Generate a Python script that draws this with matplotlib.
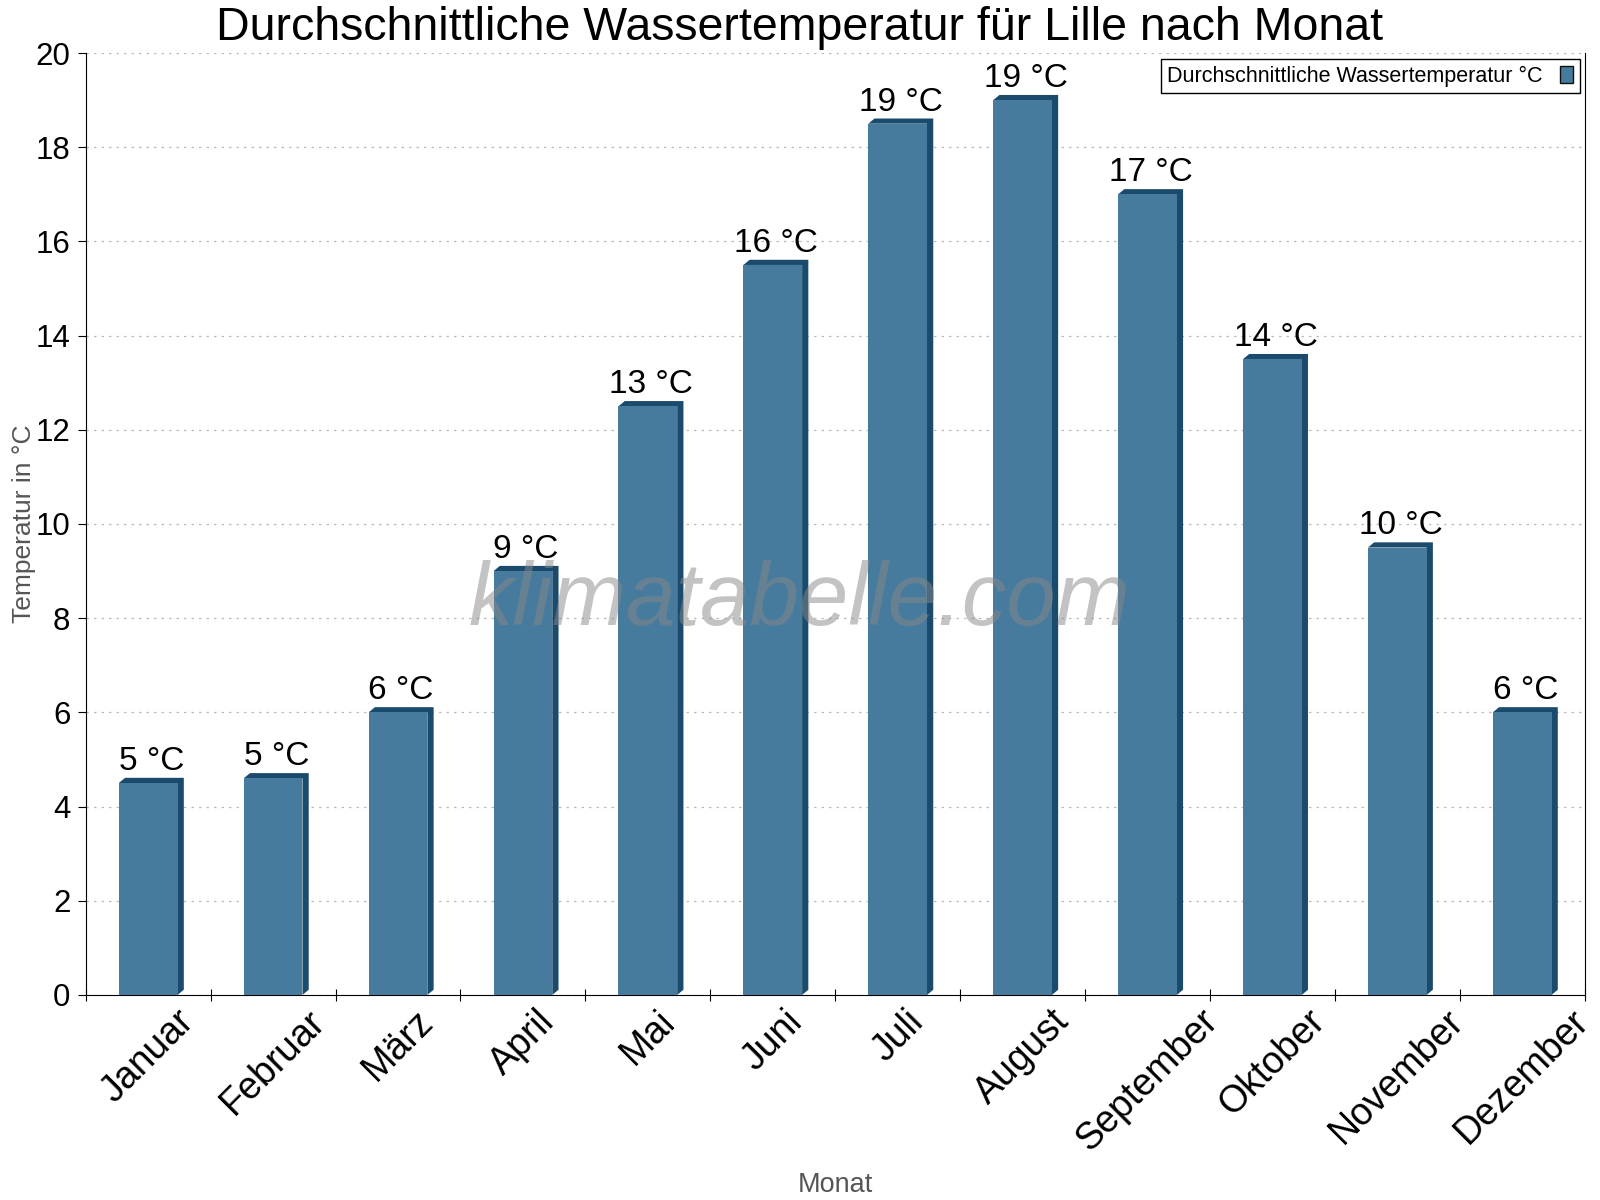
import numpy as np
import matplotlib.pyplot as plt
from matplotlib.patches import Polygon

plt.rcParams['font.family'] = ['Liberation Sans', 'DejaVu Sans']

months = ["Januar", "Februar", "März", "April", "Mai", "Juni",
          "Juli", "August", "September", "Oktober", "November", "Dezember"]
water_temp = [4.5, 4.6, 6.0, 9.0, 12.5, 15.5, 18.5, 19.0, 17.0, 13.5, 9.5, 6.0]
bar_labels = ["5 °C", "5 °C", "6 °C", "9 °C", "13 °C", "16 °C",
              "19 °C", "19 °C", "17 °C", "14 °C", "10 °C", "6 °C"]
y_ticks = [0, 2, 4, 6, 8, 10, 12, 14, 16, 18, 20]

front_col = "#467b9e"
side_col = "#1a4a6c"

fig = plt.figure(figsize=(16, 12), dpi=100)
ax = fig.add_axes([0.0536, 0.1709, 0.9368, 0.7849])

x = np.arange(len(months))
width = 0.47
# depth of the fake 3d box in data units
dx = 0.05
dy = 0.11

for xi, h in zip(x, water_temp):
    x0 = xi - width / 2
    x1 = xi + width / 2
    shadow = Polygon([(x0, h), (x0 + dx, h + dy), (x1 + dx, h + dy),
                      (x1 + dx, dy), (x1, 0), (x1, h)],
                     closed=True, facecolor=side_col, edgecolor='none', zorder=3)
    ax.add_patch(shadow)

bars = ax.bar(x, water_temp, width=width, color=front_col, zorder=4,
              label="Durchschnittliche Wassertemperatur °C")

for xi, h, lab in zip(x, water_temp, bar_labels):
    ax.text(xi + dx / 2, h + dy + 0.02, lab, ha='center', va='bottom',
            fontsize=24, color='black', zorder=6)

ax.set_xlim(-0.5, 11.5)
ax.set_ylim(0, 20)
ax.set_yticks(y_ticks)
ax.tick_params(axis='y', labelsize=22.5, length=6, direction='out', pad=5)

ax.set_xticks(np.arange(-0.5, 12, 1))
ax.set_xticklabels([])
ax.tick_params(axis='x', which='major', length=9, direction='inout')
ax.set_xticks(x, minor=True)
ax.set_xticklabels(months, minor=True, rotation=45, fontsize=27)
ax.tick_params(axis='x', which='minor', length=0, pad=6)

ax.grid(axis='y', linestyle=(0, (2, 4)), color='#bbbbbb', linewidth=0.9, zorder=0)
ax.spines['top'].set_visible(False)

fig.suptitle("Durchschnittliche Wassertemperatur für Lille nach Monat",
             fontsize=33.5, x=0.5, y=0.995, va='top')
ax.set_ylabel("Temperatur in °C", fontsize=19, color='#555555', labelpad=0)
ax.set_xlabel("Monat", fontsize=19.5, color='#555555', labelpad=10)

ax.text(0.476, 0.417, "klimatabelle.com", transform=ax.transAxes,
        fontsize=64, style='italic', color='#888888', alpha=0.5,
        ha='center', va='center', zorder=7)

leg = ax.legend(loc='upper right', fontsize=15.5, markerfirst=False,
                fancybox=False, framealpha=1, edgecolor='black',
                handlelength=0.6, handleheight=0.85, borderpad=0.3,
                borderaxespad=0, bbox_to_anchor=(0.9966, 0.9935))
leg.get_frame().set_linewidth(1.0)
leg.legend_handles[0].set_edgecolor('#111111')
leg.legend_handles[0].set_linewidth(1.0)

fig.savefig("out.png", dpi=100)
